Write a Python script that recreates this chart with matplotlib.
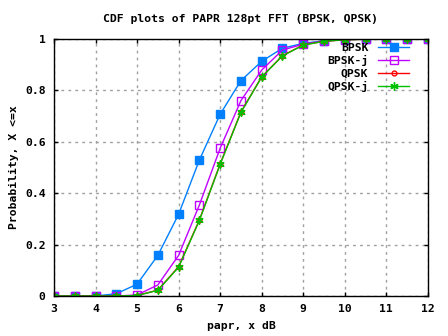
import matplotlib
matplotlib.use("Agg")
import matplotlib.pyplot as plt

# papr values in dB
papr = [3, 3.5, 4, 4.5, 5, 5.5, 6, 6.5, 7, 7.5, 8, 8.5, 9, 9.5, 10, 10.5, 11, 11.5, 12]

# CDF values
bpsk = [0, 0, 0, 0.009, 0.046, 0.158, 0.318, 0.529, 0.707, 0.838, 0.913, 0.964,
        0.983, 0.993, 0.998, 1.0, 1.0, 1.0, 1.0]
bpsk_j = [0, 0, 0, 0, 0.004, 0.043, 0.158, 0.354, 0.575, 0.760, 0.879, 0.957,
          0.980, 0.992, 0.997, 1.0, 1.0, 1.0, 1.0]
qpsk = [0, 0, 0, 0, 0.002, 0.023, 0.114, 0.296, 0.514, 0.716, 0.853, 0.935,
        0.977, 0.991, 0.997, 0.999, 1.0, 1.0, 1.0]
qpsk_j = [0, 0, 0, 0, 0.002, 0.022, 0.112, 0.294, 0.512, 0.714, 0.852, 0.934,
          0.976, 0.991, 0.997, 0.999, 1.0, 1.0, 1.0]

x_ticks = [3, 4, 5, 6, 7, 8, 9, 10, 11, 12]
y_ticks = [0, 0.2, 0.4, 0.6, 0.8, 1]
y_tick_labels = ["0", "0.2", "0.4", "0.6", "0.8", "1"]

fsize = 8.2
plt.rcParams["font.family"] = "DejaVu Sans Mono"
plt.rcParams["font.weight"] = "bold"
plt.rcParams["font.size"] = fsize

fig = plt.figure(figsize=(4.48, 3.36), dpi=100)
ax = fig.add_axes([0.1205, 0.119, 0.8345, 0.765])

ax.plot(papr, bpsk, color="#0080ff", linewidth=1, marker="s", markersize=5.5,
        markerfacecolor="#0080ff", markeredgecolor="#0080ff", label="BPSK")
ax.plot(papr, bpsk_j, color="#c000ff", linewidth=1, marker="s", markersize=5.5,
        markerfacecolor="none", markeredgecolor="#c000ff", label="BPSK-j")
ax.plot(papr, qpsk, color="#ff0000", linewidth=1, marker="o", markersize=3.5,
        markerfacecolor="none", markeredgecolor="#ff0000", label="QPSK")
ax.plot(papr, qpsk_j, color="#00c000", linewidth=1, marker=(6, 2, 0), markersize=6,
        markeredgewidth=1, markeredgecolor="#00c000", label="QPSK-j")

ax.set_xlim(3, 12)
ax.set_ylim(0, 1)
ax.set_xticks(x_ticks)
ax.set_xticklabels([str(t) for t in x_ticks], fontweight="bold", fontsize=fsize)
ax.set_yticks(y_ticks)
ax.set_yticklabels(y_tick_labels, fontweight="bold", fontsize=fsize)

ax.grid(True, color="#a0a0a0", linestyle=(0, (2, 3)), linewidth=1)
ax.tick_params(direction="in", top=True, right=True, length=3, width=1, pad=6)
for spine in ax.spines.values():
    spine.set_linewidth(1)

ax.set_title("CDF plots of PAPR 128pt FFT (BPSK, QPSK)", fontweight="bold",
             fontsize=fsize, pad=12)
ax.set_xlabel("papr, x dB", fontweight="bold", fontsize=fsize, labelpad=5)
ax.set_ylabel("Probability, X <=x", fontweight="bold", fontsize=fsize, labelpad=4)

leg = ax.legend(loc="upper right", markerfirst=False, frameon=False, handlelength=2.8,
                labelspacing=0.22, handletextpad=0.8, borderaxespad=0,
                bbox_to_anchor=(0.963, 1.004), prop={"weight": "bold", "size": fsize})

fig.savefig("out.png", dpi=100)
